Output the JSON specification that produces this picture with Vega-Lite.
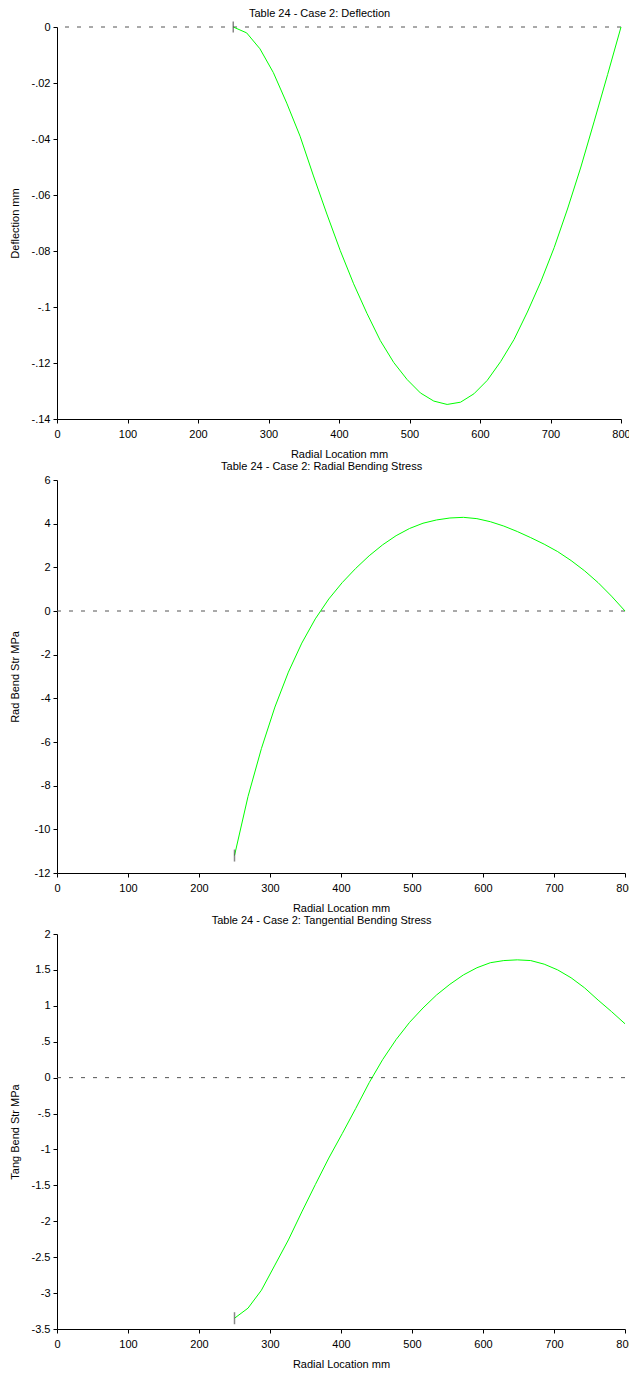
{
  "$schema": "https://vega.github.io/schema/vega-lite/v6.json",
  "padding": {"left": 9, "top": 8, "right": 0, "bottom": 0},
  "columns": 1,
  "spacing": 1,
  "datasets": {
    "defl": [
      {"r": 250, "v": 0}, {"r": 269, "v": -0.0021}, {"r": 287.9, "v": -0.0078}, {"r": 306.9, "v": -0.0163},
      {"r": 325.9, "v": -0.0272}, {"r": 344.8, "v": -0.039}, {"r": 363.8, "v": -0.0532}, {"r": 382.8, "v": -0.0668},
      {"r": 401.7, "v": -0.0798}, {"r": 420.7, "v": -0.0917}, {"r": 439.7, "v": -0.1023}, {"r": 458.6, "v": -0.112},
      {"r": 477.6, "v": -0.1198}, {"r": 496.6, "v": -0.1259}, {"r": 515.5, "v": -0.1307}, {"r": 534.5, "v": -0.1336},
      {"r": 553.4, "v": -0.1348}, {"r": 572.4, "v": -0.134}, {"r": 591.4, "v": -0.131}, {"r": 610.3, "v": -0.1262},
      {"r": 629.3, "v": -0.1195}, {"r": 648.3, "v": -0.1116}, {"r": 667.2, "v": -0.1018}, {"r": 686.2, "v": -0.091},
      {"r": 705.2, "v": -0.0788}, {"r": 724.1, "v": -0.065}, {"r": 743.1, "v": -0.05}, {"r": 762.1, "v": -0.0336},
      {"r": 781, "v": -0.017}, {"r": 800, "v": 0}
    ],
    "rad": [
      {"r": 250, "v": -11.2}, {"r": 269, "v": -8.5}, {"r": 287.9, "v": -6.3}, {"r": 306.9, "v": -4.4},
      {"r": 325.9, "v": -2.8}, {"r": 344.8, "v": -1.47}, {"r": 363.8, "v": -0.36}, {"r": 382.8, "v": 0.55},
      {"r": 401.7, "v": 1.3}, {"r": 420.7, "v": 1.95}, {"r": 439.7, "v": 2.53}, {"r": 458.6, "v": 3.03},
      {"r": 477.6, "v": 3.45}, {"r": 496.6, "v": 3.78}, {"r": 515.5, "v": 4.02}, {"r": 534.5, "v": 4.17},
      {"r": 553.4, "v": 4.26}, {"r": 572.4, "v": 4.29}, {"r": 591.4, "v": 4.23}, {"r": 610.3, "v": 4.09},
      {"r": 629.3, "v": 3.89}, {"r": 648.3, "v": 3.64}, {"r": 667.2, "v": 3.36}, {"r": 686.2, "v": 3.06},
      {"r": 705.2, "v": 2.72}, {"r": 724.1, "v": 2.31}, {"r": 743.1, "v": 1.84}, {"r": 762.1, "v": 1.3},
      {"r": 781, "v": 0.68}, {"r": 800, "v": 0}
    ],
    "tang": [
      {"r": 250, "v": -3.35}, {"r": 269, "v": -3.21}, {"r": 287.9, "v": -2.96}, {"r": 306.9, "v": -2.61},
      {"r": 325.9, "v": -2.26}, {"r": 344.8, "v": -1.87}, {"r": 363.8, "v": -1.49}, {"r": 382.8, "v": -1.12},
      {"r": 401.7, "v": -0.78}, {"r": 420.7, "v": -0.43}, {"r": 439.7, "v": -0.07}, {"r": 458.6, "v": 0.25},
      {"r": 477.6, "v": 0.53}, {"r": 496.6, "v": 0.77}, {"r": 515.5, "v": 0.97}, {"r": 534.5, "v": 1.15},
      {"r": 553.4, "v": 1.3}, {"r": 572.4, "v": 1.43}, {"r": 591.4, "v": 1.53}, {"r": 610.3, "v": 1.6},
      {"r": 629.3, "v": 1.63}, {"r": 648.3, "v": 1.64}, {"r": 667.2, "v": 1.63}, {"r": 686.2, "v": 1.58},
      {"r": 705.2, "v": 1.5}, {"r": 724.1, "v": 1.39}, {"r": 743.1, "v": 1.25}, {"r": 762.1, "v": 1.08},
      {"r": 781, "v": 0.92}, {"r": 800, "v": 0.75}
    ]
  },
  "concat": [
    {
      "width": 564,
      "height": 392,
      "title": {"text": "Table 24 - Case 2: Deflection", "frame": "bounds"},
      "layer": [
        {
          "data": {"values": [{}]},
          "mark": {"type": "rule", "strokeDash": [4, 8], "color": "#555555", "strokeWidth": 1},
          "encoding": {"y": {"datum": 0, "type": "quantitative"}}
        },
        {
          "data": {"name": "defl"},
          "mark": {"type": "line", "color": "#00ff00", "strokeWidth": 1},
          "encoding": {
            "x": {"field": "r", "type": "quantitative", "scale": {"domain": [0, 800], "nice": false},
              "axis": {"title": "Radial Location mm", "values": [0, 100, 200, 300, 400, 500, 600, 700, 800]}},
            "y": {"field": "v", "type": "quantitative", "scale": {"domain": [-0.14, 0], "nice": false, "zero": false},
              "axis": {"title": "Deflection mm", "titlePadding": 11, "tickCount": 12,
                "values": [0, -0.02, -0.04, -0.06, -0.08, -0.1, -0.12, -0.14],
                "labelExpr": "replace(replace(format(datum.value, '.2~f'), '−', '-'), '0.', '.')"}}
          }
        },
        {
          "data": {"name": "defl"},
          "transform": [{"filter": "datum.r == 250"}],
          "mark": {"type": "tick", "orient": "vertical", "size": 11, "thickness": 1.5, "color": "#555555"},
          "encoding": {
            "x": {"field": "r", "type": "quantitative"},
            "y": {"field": "v", "type": "quantitative"}
          }
        }
      ]
    },
    {
      "width": 568,
      "height": 393,
      "title": {"text": "Table 24 - Case 2: Radial Bending Stress", "frame": "bounds"},
      "layer": [
        {
          "data": {"values": [{}]},
          "mark": {"type": "rule", "strokeDash": [4, 8], "color": "#555555", "strokeWidth": 1},
          "encoding": {"y": {"datum": 0, "type": "quantitative"}}
        },
        {
          "data": {"name": "rad"},
          "mark": {"type": "line", "color": "#00ff00", "strokeWidth": 1},
          "encoding": {
            "x": {"field": "r", "type": "quantitative", "scale": {"domain": [0, 800], "nice": false},
              "axis": {"title": "Radial Location mm", "values": [0, 100, 200, 300, 400, 500, 600, 700, 800]}},
            "y": {"field": "v", "type": "quantitative", "scale": {"domain": [-12, 6], "nice": false, "zero": false},
              "axis": {"title": "Rad Bend Str MPa", "titlePadding": 14, "tickCount": 12,
                "values": [6, 4, 2, 0, -2, -4, -6, -8, -10, -12],
                "labelExpr": "replace(format(datum.value, 'd'), '−', '-')"}}
          }
        },
        {
          "data": {"name": "rad"},
          "transform": [{"filter": "datum.r == 250"}],
          "mark": {"type": "tick", "orient": "vertical", "size": 12, "thickness": 1.5, "color": "#555555"},
          "encoding": {
            "x": {"field": "r", "type": "quantitative"},
            "y": {"field": "v", "type": "quantitative"}
          }
        }
      ]
    },
    {
      "width": 568,
      "height": 395,
      "title": {"text": "Table 24 - Case 2: Tangential Bending Stress", "frame": "bounds"},
      "layer": [
        {
          "data": {"values": [{}]},
          "mark": {"type": "rule", "strokeDash": [4, 8], "color": "#555555", "strokeWidth": 1},
          "encoding": {"y": {"datum": 0, "type": "quantitative"}}
        },
        {
          "data": {"name": "tang"},
          "mark": {"type": "line", "color": "#00ff00", "strokeWidth": 1},
          "encoding": {
            "x": {"field": "r", "type": "quantitative", "scale": {"domain": [0, 800], "nice": false},
              "axis": {"title": "Radial Location mm", "values": [0, 100, 200, 300, 400, 500, 600, 700, 800]}},
            "y": {"field": "v", "type": "quantitative", "scale": {"domain": [-3.5, 2], "nice": false, "zero": false},
              "axis": {"title": "Tang Bend Str MPa", "titlePadding": 11, "tickCount": 14,
                "values": [2, 1.5, 1, 0.5, 0, -0.5, -1, -1.5, -2, -2.5, -3, -3.5],
                "labelExpr": "replace(replace(format(datum.value, '.1~f'), '−', '-'), '0.', '.')"}}
          }
        },
        {
          "data": {"name": "tang"},
          "transform": [{"filter": "datum.r == 250"}],
          "mark": {"type": "tick", "orient": "vertical", "size": 12, "thickness": 1.5, "color": "#555555"},
          "encoding": {
            "x": {"field": "r", "type": "quantitative"},
            "y": {"field": "v", "type": "quantitative"}
          }
        }
      ]
    }
  ],
  "config": {
    "view": {"stroke": null},
    "font": "Liberation Sans",
    "axis": {
      "grid": false,
      "domainColor": "#000000",
      "tickColor": "#000000",
      "labelColor": "#000000",
      "titleColor": "#000000",
      "labelFont": "Liberation Sans",
      "titleFont": "Liberation Sans",
      "labelFontSize": 11,
      "titleFontSize": 11,
      "titleFontWeight": "normal",
      "tickSize": 4,
      "labelPadding": 3,
      "labelFlush": false,
      "labelOverlap": false,
      "domainWidth": 1,
      "tickWidth": 1
    },
    "axisX": {"titlePadding": 9.7, "labelPadding": 5, "tickCount": 12},
    "title": {"fontSize": 11, "fontWeight": "normal", "font": "Liberation Sans", "color": "#000000", "offset": 2, "frame": "bounds"}
  }
}
